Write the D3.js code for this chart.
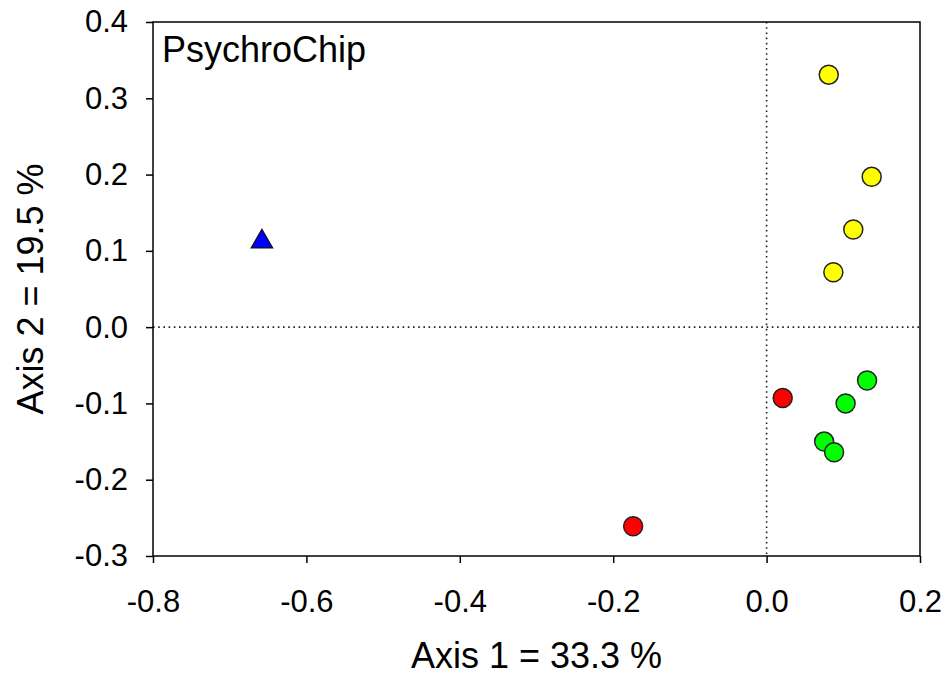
<!DOCTYPE html>
<html>
<head>
<meta charset="utf-8">
<script src="https://cdn.jsdelivr.net/npm/d3@7"></script>
<style>
  body { margin: 0; background: #fff; }
  svg { display: block; font-family: "Liberation Sans", Arial, sans-serif; }
  .axis path, .axis line { stroke: #000; stroke-width: 1.5; }
  .axis text { font-size: 31px; fill: #000; }
</style>
</head>
<body>
<div id="chart"></div>
<script>
// PCoA scores
var yellowX = [0.081, 0.137, 0.113, 0.087];
var yellowY = [0.331, 0.197, 0.128, 0.072];
var greenX = [0.131, 0.103, 0.075, 0.088];
var greenY = [-0.070, -0.100, -0.150, -0.164];
var redX = [0.021, -0.174];
var redY = [-0.093, -0.261];
var blueX = [-0.658];
var blueY = [0.112];

var xTicks = [-0.8, -0.6, -0.4, -0.2, 0.0, 0.2];
var yTicks = [-0.3, -0.2, -0.1, 0.0, 0.1, 0.2, 0.3, 0.4];

var width = 950;
var height = 676;
var margin = { top: 22, left: 153, bottom: 120, right: 30 };

var xScale = d3.scaleLinear()
   .domain([-0.8, 0.2])
   .range([margin.left, width - margin.right]);

var yScale = d3.scaleLinear()
   .domain([-0.3, 0.4])
   .range([height - margin.bottom, margin.top]);

// plain hyphen instead of unicode minus
var fmt = function (d) { return d3.format(".1f")(d).replace("\u2212", "-"); };

var svg = d3.select("#chart")
   .append("svg")
   .attr("width", width)
   .attr("height", height);

// zero reference lines
svg.append("line")
   .attr("x1", xScale(-0.8)).attr("x2", xScale(0.2))
   .attr("y1", yScale(0)).attr("y2", yScale(0))
   .attr("stroke", "#222").attr("stroke-width", 1.6)
   .attr("stroke-dasharray", "1.6,3.6");

svg.append("line")
   .attr("x1", xScale(0)).attr("x2", xScale(0))
   .attr("y1", yScale(0.4)).attr("y2", yScale(-0.3))
   .attr("stroke", "#222").attr("stroke-width", 1.6)
   .attr("stroke-dasharray", "1.6,3.6");

// frame
svg.append("rect")
   .attr("x", xScale(-0.8))
   .attr("y", yScale(0.4))
   .attr("width", xScale(0.2) - xScale(-0.8))
   .attr("height", yScale(-0.3) - yScale(0.4))
   .attr("fill", "none")
   .attr("stroke", "#000")
   .attr("stroke-width", 1.5);

var xAxis = d3.axisBottom(xScale)
   .tickValues(xTicks)
   .tickFormat(fmt)
   .tickSize(7)
   .tickPadding(27)
   .tickSizeOuter(0);

var yAxis = d3.axisLeft(yScale)
   .tickValues(yTicks)
   .tickFormat(fmt)
   .tickSize(7)
   .tickPadding(18)
   .tickSizeOuter(0);

svg.append("g")
   .attr("class", "axis axis--x")
   .attr("transform", "translate(0," + yScale(-0.3) + ")")
   .call(xAxis);

svg.append("g")
   .attr("class", "axis axis--y")
   .attr("transform", "translate(" + xScale(-0.8) + ",0)")
   .call(yAxis);

svg.selectAll(".axis .domain").remove();

// points
function drawDots(xs, ys, fill) {
   svg.append("g").selectAll("circle")
      .data(xs.map(function (x, i) { return { x: x, y: ys[i] }; }))
      .enter().append("circle")
      .attr("cx", function (d) { return xScale(d.x); })
      .attr("cy", function (d) { return yScale(d.y); })
      .attr("r", 9.5)
      .attr("fill", fill)
      .attr("stroke", "#222")
      .attr("stroke-width", 1.5);
}

drawDots(yellowX, yellowY, "#ffff00");
drawDots(redX, redY, "#ff0000");
drawDots(greenX, greenY, "#00ff00");

svg.append("g").selectAll("path")
   .data(blueX.map(function (x, i) { return { x: x, y: blueY[i] }; }))
   .enter().append("path")
   .attr("d", d3.symbol().type(d3.symbolTriangle).size(200))
   .attr("transform", function (d) {
      return "translate(" + xScale(d.x) + "," + yScale(d.y) + ")";
   })
   .attr("fill", "#0000ff")
   .attr("stroke", "#111")
   .attr("stroke-width", 1.2);

// labels
svg.append("text")
   .attr("x", 162)
   .attr("y", 62)
   .attr("font-size", 36)
   .text("PsychroChip");

svg.append("text")
   .attr("x", (xScale(-0.8) + xScale(0.2)) / 2)
   .attr("y", 668)
   .attr("text-anchor", "middle")
   .attr("font-size", 36)
   .text("Axis 1 = 33.3 %");

svg.append("text")
   .attr("transform", "translate(43," + (yScale(-0.3) + yScale(0.4)) / 2 + ") rotate(-90)")
   .attr("text-anchor", "middle")
   .attr("font-size", 36)
   .text("Axis 2 = 19.5 %");
</script>
</body>
</html>
